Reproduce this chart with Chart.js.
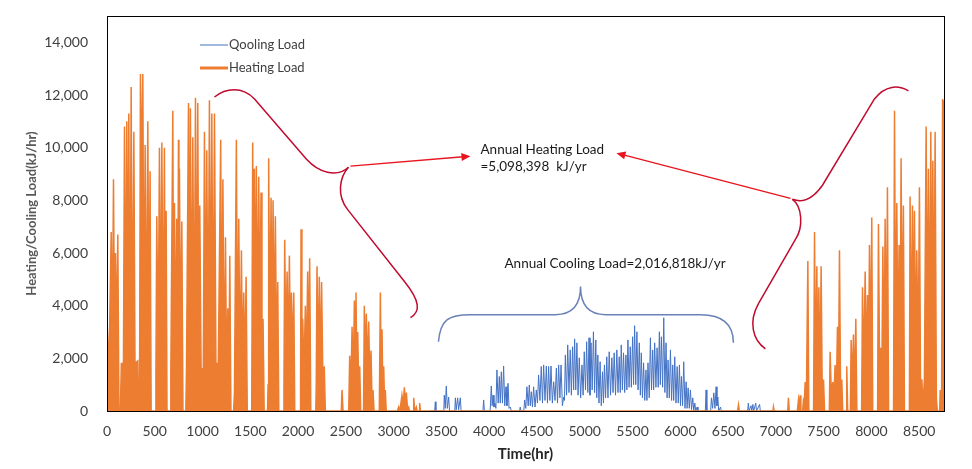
<!DOCTYPE html>
<html>
<head>
<meta charset="utf-8">
<script src="https://cdn.jsdelivr.net/npm/chart.js@4"></script>
<style>
  html, body { margin: 0; padding: 0; background: #fff; }
  #chart { display: block; }
</style>
</head>
<body>
<canvas id="chart" width="972" height="469"></canvas>
<script>
// [hour, kJ/hr], peaks and troughs of the daily swings
const heatingEarly = [
  [0, 3500], [20, 1500], [44, 6800], [56, 2500], [68, 8800], [78, 3000], [89, 6000], [100, 2500], [113, 6700], [125, 0], [140, 0],
  [150, 1800], [172, 1800], [183, 10800], [195, 1800], [207, 11000], [217, 1800], [228, 11300], [240, 1800], [253, 12300], [265, 1800], [281, 10600], [293, 1800], [322, 1900], [330, 0], [340, 0],
  [350, 12800], [361, 9000], [375, 12800], [387, 1900], [399, 10100], [412, 1900], [427, 11000], [440, 1900], [451, 9100], [462, 0], [505, 0],
  [512, 1500], [521, 7400], [535, 2000], [549, 10000], [561, 2000], [574, 10200], [588, 2000], [601, 10000], [610, 2000], [619, 7600], [628, 0], [660, 0],
  [668, 1500], [689, 11400], [697, 2000], [706, 7900], [718, 2000], [730, 7300], [740, 2000], [748, 10300], [753, 3000], [758, 9200], [770, 2000], [783, 7200], [795, 0], [825, 0],
  [832, 1600], [853, 11700], [863, 1600], [873, 11500], [886, 1600], [898, 10400], [912, 1600], [926, 11900], [938, 1600], [950, 11700], [961, 1600], [971, 7800], [985, 1600], [1008, 1600],
  [1020, 10600], [1032, 1800], [1044, 9900], [1058, 1800], [1072, 11800], [1085, 1800], [1097, 11300], [1110, 1800], [1125, 11300], [1140, 1800], [1165, 1800],
  [1190, 10300], [1200, 1800], [1213, 8800], [1226, 1000], [1240, 6600], [1252, 800], [1264, 3900], [1275, 800], [1285, 5900], [1297, 0], [1325, 0],
  [1334, 700], [1354, 10300], [1366, 1500], [1379, 7300], [1392, 1500], [1407, 6100], [1418, 1500], [1431, 4500], [1443, 1500], [1456, 5100], [1468, 0], [1510, 0],
  [1515, 500], [1525, 10200], [1533, 3000], [1542, 9200], [1552, 3000], [1563, 9300], [1575, 3000], [1588, 8900], [1600, 3000], [1612, 8300], [1622, 2000], [1633, 3500], [1645, 0], [1680, 0],
  [1686, 1000], [1692, 9600], [1704, 2500], [1717, 8100], [1727, 2500], [1738, 8000], [1750, 2500], [1762, 7400], [1775, 2000], [1787, 4900], [1798, 0], [1845, 0],
  [1852, 1000], [1860, 6500], [1872, 2000], [1885, 5300], [1897, 2000], [1909, 5900], [1920, 2000], [1930, 4500], [1943, 2000], [1955, 4500], [1965, 0], [2020, 0],
  [2026, 1000], [2031, 6900], [2040, 2000], [2048, 3500], [2062, 1500], [2076, 4000], [2088, 1500], [2100, 5300], [2110, 1500], [2121, 5800], [2133, 0], [2185, 0],
  [2190, 1000], [2198, 5500], [2210, 1500], [2222, 5100], [2234, 1500], [2246, 4900], [2260, 1000], [2274, 1700], [2285, 0], [2452, 0],
  [2460, 800], [2470, 0], [2530, 0], [2540, 2100], [2552, 800], [2565, 3200], [2577, 1000], [2589, 4200], [2598, 1500], [2606, 4500], [2615, 1500], [2624, 3000], [2635, 800], [2645, 1700], [2655, 0], [2685, 0],
  [2693, 4000], [2703, 1500], [2714, 3700], [2726, 1500], [2739, 3400], [2751, 1000], [2763, 2300], [2773, 500], [2784, 800], [2795, 0], [2850, 0],
  [2861, 4500], [2870, 1000], [2878, 3100], [2887, 800], [2896, 1700], [2905, 300], [2913, 800], [2922, 0], [3040, 0],
  [3052, 150], [3065, 0], [3087, 600], [3100, 200], [3112, 900], [3122, 300], [3133, 700], [3145, 100], [3157, 150], [3165, 0], [3205, 0],
  [3210, 500], [3220, 0], [3237, 150], [3245, 0], [3268, 0], [3272, 300], [3280, 0]
];

const heatingLate = [
  [6600, 0], [6609, 230], [6618, 0], [6970, 0], [6975, 150], [6982, 0], [7125, 0], [7132, 500], [7140, 0], [7225, 0], [7237, 420], [7246, 100], [7254, 600], [7262, 0],
  [7280, 0], [7289, 400], [7298, 300], [7307, 1100], [7320, 500], [7335, 5700], [7345, 0], [7395, 0],
  [7405, 6800], [7415, 1000], [7429, 5500], [7440, 1000], [7450, 4700], [7462, 1000], [7474, 5500], [7486, 500], [7499, 1200], [7510, 0], [7560, 0],
  [7568, 2250], [7582, 500], [7596, 1100], [7608, 500], [7620, 1750], [7632, 500], [7645, 3200], [7655, 800], [7666, 6100], [7678, 500], [7690, 1200], [7700, 0], [7735, 0],
  [7742, 1700], [7752, 0], [7780, 0], [7788, 2700], [7800, 800], [7812, 2900], [7825, 800], [7837, 3500], [7848, 0], [7898, 0],
  [7907, 4700], [7920, 1500], [7935, 5300], [7947, 1500], [7959, 4400], [7970, 1500], [7980, 6300], [7992, 1500], [8004, 7350], [8014, 0], [8065, 0],
  [8074, 7100], [8086, 1500], [8099, 2400], [8110, 1500], [8120, 6250], [8132, 1500], [8144, 7300], [8156, 1500], [8168, 8500], [8180, 0], [8232, 0],
  [8242, 11400], [8254, 2000], [8266, 7900], [8278, 2000], [8290, 6300], [8300, 2000], [8311, 9600], [8323, 2000], [8335, 7800], [8346, 0], [8398, 0],
  [8405, 8150], [8417, 2000], [8430, 7800], [8440, 2000], [8451, 7600], [8463, 2000], [8475, 6100], [8490, 2000], [8503, 8500], [8515, 500], [8528, 1200], [8540, 200], [8555, 1200],
  [8573, 10800], [8585, 2000], [8597, 9200], [8610, 2000], [8622, 10600], [8632, 2000], [8643, 9500], [8655, 2000], [8667, 10600], [8680, 500], [8690, 0], [8715, 0],
  [8720, 800], [8735, 300], [8745, 11850], [8752, 3000], [8760, 11800]
];

const coolingSummer = [
  [3380, 0], [3430, 0], [3436, 350], [3442, 0], [3525, 0], [3530, 600], [3540, 100], [3551, 950], [3562, 100], [3576, 530], [3585, 0],
  [3640, 0], [3646, 500], [3655, 50], [3670, 500], [3680, 50], [3698, 500], [3706, 0], [3935, 0], [3942, 420], [3950, 0], [4010, 0],
  [4022, 950], [4031, 200], [4040, 600], [4050, 150], [4060, 300], [4070, 100], [4081, 1560], [4094, 300], [4106, 1310], [4116, 300], [4127, 1490], [4139, 300],
  [4151, 1710], [4163, 200], [4176, 920], [4186, 200], [4197, 1050], [4208, 100], [4221, 150], [4232, 0], [4318, 0], [4325, 150], [4333, 0], [4362, 0],
  [4371, 420], [4383, 100], [4395, 920], [4408, 200], [4420, 990], [4430, 200], [4441, 730], [4453, 150], [4465, 920], [4480, 150], [4493, 800], [4505, 300],
  [4517, 1370], [4531, 400], [4545, 1690], [4558, 300], [4570, 1750], [4584, 400], [4598, 1710], [4610, 300], [4622, 1690], [4635, 400], [4647, 1710], [4661, 300],
  [4675, 1110], [4689, 400], [4703, 1630], [4715, 300], [4727, 1750], [4740, 500], [4752, 1750], [4766, 200], [4780, 530], [4788, 400],
  [4797, 2130], [4810, 600], [4822, 2510], [4835, 700], [4848, 2320], [4860, 600], [4873, 2440], [4884, 800], [4894, 2740], [4906, 800], [4918, 2590], [4930, 600],
  [4943, 2020], [4957, 500], [4971, 1750], [4983, 600], [4995, 2250], [5008, 800], [5020, 2630], [5032, 700], [5045, 2780], [5055, 600], [5066, 2590], [5078, 800],
  [5091, 3010], [5103, 700], [5116, 2700], [5126, 500], [5137, 2130], [5149, 300], [5161, 1870], [5173, 200], [5186, 1490], [5196, 300], [5206, 1750], [5218, 500],
  [5231, 2060], [5243, 500], [5256, 2250], [5270, 600], [5284, 2020], [5296, 700], [5308, 2210], [5322, 600], [5336, 2320], [5348, 700], [5361, 2060], [5372, 700],
  [5382, 2510], [5394, 800], [5406, 2210], [5418, 700], [5431, 2130], [5441, 800], [5452, 2700], [5464, 900], [5476, 2440], [5488, 900], [5501, 2820], [5511, 1000],
  [5522, 3240], [5534, 1000], [5546, 3010], [5558, 800], [5571, 2590], [5582, 600], [5592, 2210], [5604, 500], [5616, 1830], [5628, 400], [5641, 1560], [5651, 400],
  [5662, 1830], [5675, 500], [5687, 2780], [5699, 800], [5711, 2320], [5721, 800], [5732, 2590], [5745, 900], [5757, 2400], [5769, 900], [5781, 3010], [5791, 1000],
  [5802, 2820], [5815, 900], [5827, 3540], [5839, 700], [5851, 2590], [5862, 500], [5872, 1940], [5885, 500], [5897, 2320], [5909, 400], [5921, 1750], [5931, 400],
  [5942, 2060], [5955, 300], [5967, 1690], [5979, 300], [5991, 1750], [6002, 200], [6012, 1310], [6024, 200], [6036, 1870], [6049, 100], [6061, 1110], [6071, 100],
  [6082, 880], [6094, 100], [6106, 800], [6118, 50], [6131, 500], [6141, 0], [6152, 300], [6162, 0], [6176, 150], [6185, 0], [6262, 0], [6270, 800], [6278, 0],
  [6318, 0], [6326, 500], [6338, 100], [6351, 690], [6363, 100], [6375, 920], [6384, 200], [6393, 530], [6402, 0], [6421, 150], [6430, 0],
  [6705, 0], [6712, 300], [6720, 0], [6740, 200], [6748, 0], [6760, 250], [6768, 0], [6790, 300], [6798, 0], [6830, 250], [6838, 0], [7000, 0]
];

const xTicks = [0, 500, 1000, 1500, 2000, 2500, 3000, 3500, 4000, 4500, 5000, 5500, 6000, 6500, 7000, 7500, 8000, 8500];
const yTicks = [0, 2000, 4000, 6000, 8000, 10000, 12000, 14000];

const seriesNames = ['Qooling Load', 'Heating Load'];
const seriesColors = ['#4472C4', '#ED7D31'];

const heatingText = ['Annual Heating Load', '=5,098,398  kJ/yr'];
const coolingText = 'Annual Cooling Load=2,016,818kJ/yr';

// brace / arrow shapes in data units [hour, kJ/hr]
const leftBrace = [[1125, 11925], [1240, 12268], [1418, 12344], [1544, 11849], [2088, 9563], [2213, 9068], [2402, 8839], [2527, 9258]];
const leftBraceTail = [[2527, 9258], [2433, 8877], [2402, 8192], [2517, 7658], [3113, 4915], [3281, 4153], [3281, 3772], [3176, 3543]];
const leftArrow = [[2548, 9296], [3804, 9677]];
const rightBrace = [[8388, 12154], [8283, 12383], [8147, 12383], [8032, 11849], [7488, 8573], [7362, 7925], [7257, 7925], [7173, 8039]];
const rightBraceTail = [[7173, 8039], [7278, 7772], [7289, 6972], [7205, 6515], [6818, 4077], [6713, 3391], [6755, 2705], [6891, 2362]];
const rightArrow = [[7153, 8077], [5332, 9792]];
const coolBrace = [[3469, 2629], [3490, 3467], [3574, 3658], [3804, 3658], [4694, 3658], [4872, 3658], [4956, 4039], [4956, 4724],
                   [4956, 4039], [5039, 3658], [5217, 3658], [6211, 3658], [6441, 3658], [6556, 3277], [6556, 2591]];

const toXY = (pairs) => pairs.map(([x, y]) => ({x, y}));

const fontFamily = 'Lato, "Open Sans", sans-serif';

const annotations = {
  id: 'annotations',
  afterDatasetsDraw(chart) {
    const {ctx, chartArea, scales: {x, y}} = chart;
    const px = ([h, v]) => [x.getPixelForValue(h), y.getPixelForValue(v)];

    // frame round the plot area
    ctx.save();
    ctx.strokeStyle = '#000';
    ctx.lineWidth = 1;
    ctx.strokeRect(Math.round(chartArea.left) + 0.5, Math.round(chartArea.top) + 0.5,
      Math.round(chartArea.right - chartArea.left), Math.round(chartArea.bottom - chartArea.top));

    // path: move, then a list of curve (C) / line (L) segments
    const drawBrace = (pts, pattern, color) => {
      ctx.beginPath();
      ctx.strokeStyle = color;
      ctx.lineWidth = 1.5;
      const p = px(pts[0]);
      ctx.moveTo(p[0], p[1]);
      let i = 1;
      pattern.forEach((seg) => {
        if (seg === 'C') {
          const a = px(pts[i]), b = px(pts[i + 1]), c = px(pts[i + 2]);
          ctx.bezierCurveTo(a[0], a[1], b[0], b[1], c[0], c[1]);
          i += 3;
        } else {
          const a = px(pts[i]);
          ctx.lineTo(a[0], a[1]);
          i += 1;
        }
      });
      ctx.stroke();
    };

    const drawArrow = (pts, color) => {
      const [x1, y1] = px(pts[0]);
      const [x2, y2] = px(pts[1]);
      const ang = Math.atan2(y2 - y1, x2 - x1);
      const len = 9;
      ctx.beginPath();
      ctx.strokeStyle = color;
      ctx.lineWidth = 1.3;
      ctx.moveTo(x1, y1);
      ctx.lineTo(x2 - Math.cos(ang) * len * 0.8, y2 - Math.sin(ang) * len * 0.8);
      ctx.stroke();
      ctx.beginPath();
      ctx.fillStyle = color;
      ctx.moveTo(x2, y2);
      ctx.lineTo(x2 - len * Math.cos(ang) + 4 * Math.sin(ang), y2 - len * Math.sin(ang) - 4 * Math.cos(ang));
      ctx.lineTo(x2 - len * Math.cos(ang) - 4 * Math.sin(ang), y2 - len * Math.sin(ang) + 4 * Math.cos(ang));
      ctx.closePath();
      ctx.fill();
    };

    drawBrace(leftBrace, ['C', 'L', 'C'], '#C00A2E');
    drawBrace(leftBraceTail, ['C', 'L', 'C'], '#C00A2E');
    drawBrace(rightBrace, ['C', 'L', 'C'], '#C00A2E');
    drawBrace(rightBraceTail, ['C', 'L', 'C'], '#C00A2E');
    drawBrace(coolBrace, ['C', 'L', 'C', 'C', 'L', 'C'], '#6A82B8');
    drawArrow(leftArrow, '#E8141E');
    drawArrow(rightArrow, '#E8141E');

    // texts
    ctx.fillStyle = '#1a1a1a';
    ctx.font = '13.5px ' + fontFamily;
    ctx.textBaseline = 'middle';
    ctx.textAlign = 'left';
    const hx = x.getPixelForValue(3909);
    ctx.fillText(heatingText[0], hx, y.getPixelForValue(9944));
    ctx.fillText(heatingText[1], hx, y.getPixelForValue(9296));
    ctx.fillText(coolingText, x.getPixelForValue(4160), y.getPixelForValue(5600));

    // legend inside the plot
    ctx.font = '13px ' + fontFamily;
    const lx = chartArea.left + 93;
    const ly = chartArea.top + 29;
    seriesNames.forEach((name, i) => {
      const yy = ly + i * 23;
      ctx.beginPath();
      ctx.strokeStyle = seriesColors[i];
      ctx.lineWidth = i === 0 ? 1 : 3;
      ctx.moveTo(lx, yy);
      ctx.lineTo(lx + 28, yy);
      ctx.stroke();
      ctx.fillStyle = '#404040';
      ctx.fillText(name, lx + 29, yy);
    });
    ctx.restore();
  }
};

new Chart(document.getElementById('chart'), {
  type: 'line',
  data: {
    datasets: [
      {
        label: seriesNames[1],
        data: toXY(heatingEarly.concat(heatingLate)),
        borderColor: seriesColors[1],
        backgroundColor: seriesColors[1],
        borderWidth: 1.5,
        fill: 'origin',
        pointRadius: 0,
        tension: 0
      },
      {
        label: seriesNames[0],
        data: toXY(coolingSummer),
        borderColor: seriesColors[0],
        borderWidth: 1,
        fill: false,
        pointRadius: 0,
        tension: 0
      }
    ]
  },
  options: {
    responsive: false,
    animation: false,
    events: [],
    layout: { padding: { top: 16, right: 28, left: 0, bottom: 0 } },
    plugins: {
      legend: { display: false },
      tooltip: { enabled: false }
    },
    scales: {
      x: {
        type: 'linear',
        min: 0,
        max: 8760,
        grid: { display: false, drawTicks: false },
        border: { display: false },
        afterBuildTicks: (scale) => { scale.ticks = xTicks.map((v) => ({value: v})); },
        afterFit: (scale) => { scale.height = 58; scale.paddingLeft = 0; scale.paddingRight = 0; },
        ticks: {
          callback: (v) => String(v),
          color: '#404040',
          padding: 12,
          maxRotation: 0,
          autoSkip: false,
          font: { family: fontFamily, size: 14 }
        },
        title: {
          display: true,
          text: 'Time(hr)',
          color: '#262626',
          padding: { top: 0, bottom: 6 },
          font: { family: fontFamily, size: 15, weight: 'bold' }
        }
      },
      y: {
        min: 0,
        max: 15000,
        grid: { display: false, drawTicks: false },
        border: { display: false },
        afterBuildTicks: (scale) => { scale.ticks = yTicks.map((v) => ({value: v})); },
        afterFit: (scale) => { scale.width = 107; scale.paddingTop = 0; scale.paddingBottom = 0; },
        ticks: {
          callback: (v) => v.toLocaleString('en-US'),
          color: '#404040',
          padding: 19,
          font: { family: fontFamily, size: 14 }
        },
        title: {
          display: true,
          text: 'Heating/Cooling Load(kJ/hr)',
          color: '#595959',
          padding: { top: 24, bottom: 0 },
          font: { family: fontFamily, size: 13, weight: 'bold' }
        }
      }
    }
  },
  plugins: [annotations]
});
</script>
</body>
</html>
